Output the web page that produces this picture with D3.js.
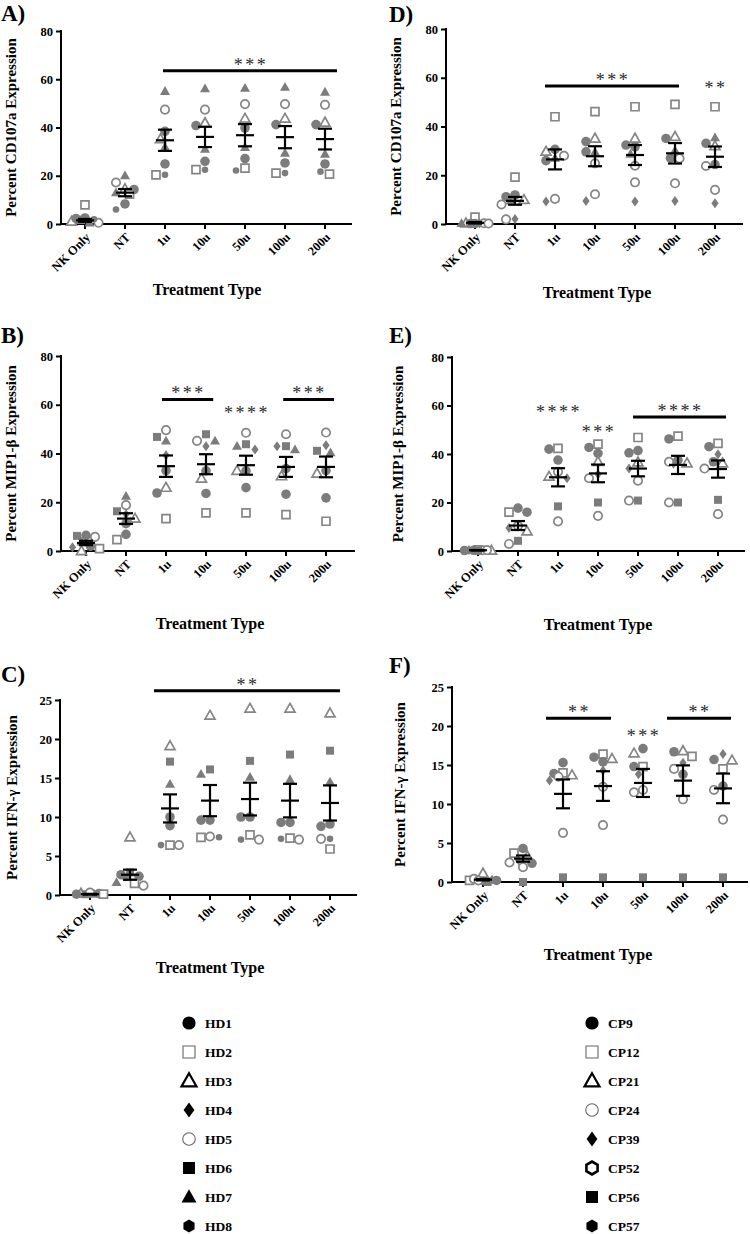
<!DOCTYPE html>
<html><head><meta charset="utf-8">
<script src="https://cdn.jsdelivr.net/npm/d3@7"></script>
<style>
body{margin:0;background:#fff}
svg{display:block}
text{font-family:'Liberation Serif','Times New Roman',serif;font-weight:bold;fill:#000}
</style>
</head><body>
<svg id="chart" width="750" height="1234"></svg>
<script>
// ---------- DATA ----------
const categories = ["NK Only","NT","1u","10u","50u","100u","200u"];

// Panel A: Percent CD107a (HD donors)
const aShapes = ["ftri","ocircle","otri","circle","ftri","circle","dot","osquare"];
const aValues = [
  [0.5,20,55,56.1,56.3,56.7,54.7],
  [0.5,17.2,47.4,47.4,49.7,49.7,49.4],
  [1,14.5,35.2,41.9,43.7,43.7,42.1],
  [2.3,14.3,38.4,40.8,39.8,41.2,41.2],
  [1.5,13,31.9,31,31.8,29.4,29],
  [2.5,8.3,24.9,26,27.1,25.3,24.9],
  [2,6,20.4,22.5,22.2,21.1,21.7],
  [7.9,12.4,20.4,22.5,23.2,21.1,20.7]
];
const aMeans = [1.5,13,34.7,36.1,36.8,36,35.2];
const aSems  = [0.6,1.5,4.4,4.2,4.6,4.6,4.3];

// Panel B: Percent MIP1-beta (HD donors)
const bShapes = ["ocircle","fsquare","ftri","diamond","circle","otri","circle","osquare"];
const bValues = [
  [5.8,18.8,49.6,45.2,48.5,47.9,48.6],
  [6.2,16.3,46.8,47.9,43.8,43,41.1],
  [3.7,22.5,45.2,45.2,43,41.6,40.3],
  [1.5,15.1,39.3,43,41.6,43,43.4],
  [6.4,11.2,33,32.9,32.9,33.8,33],
  [0,13.3,26,29.7,32.9,30.7,31.8],
  [2,6.8,23.8,23.6,26,23.3,21.8],
  [1,4.7,13.3,15.6,15.6,14.9,12.2]
];
const bMeans = [3.3,13.3,34.8,35.6,35.2,34.5,34.5];
const bSems  = [0.9,2.2,4.4,4.1,3.9,4.1,4.25];

// Panel C: Percent IFN-gamma (HD donors)
const cShapes = ["otri","fsquare","ftri","circle","circle","osquare","dot","ocircle"];
const cValues = [
  [0.2,7.4,19.1,23,23.9,23.9,23.3],
  [0.1,2.9,17.1,16.1,17.2,18,18.5],
  [0.1,1.6,14.2,15.5,15.1,14.8,14.5],
  [0.1,2.4,10,9.6,10,9.3,9.1],
  [0.2,2.6,8.9,9.6,10,9.3,8.8],
  [0.1,1.5,6.4,7.4,7.7,7.3,5.9],
  [0.1,2.2,6.4,7.4,7.1,7.2,7.2],
  [0.3,1.2,6.4,7.5,7.1,7.1,7.2]
];
const cMeans = [0.1,2.6,11.1,12.1,12.3,12.1,11.8];
const cSems  = [0.05,0.65,1.8,2,2.1,2.15,2.25];

// Panel D: Percent CD107a (CP donors)
const dShapes = ["osquare","circle","otri","ftri","ocircle","ocircle","circle","diamond"];
const dValues = [
  [2.8,19.2,44,46.1,48.1,49.1,48.1],
  [0.2,11.2,30.6,33.8,32.4,35.1,33.1],
  [0.3,9.9,29.7,35.1,35.1,35.8,32],
  [0.2,9.5,27,29.6,28.7,30.2,35.4],
  [0.3,1.9,10.3,12.2,17.1,16.7,14],
  [0.2,8,28,24.9,23.9,26.9,23.8],
  [0.2,11.9,26,29.6,31.7,27,24.4],
  [0.2,2.1,9.2,9.4,9.2,9.4,8.5]
];
const dMeans = [0.5,9.5,26.5,27.8,28.3,29,27.6];
const dSems  = [0.3,1.6,4.1,4.1,4.1,4.2,4.2];

// Panel E: Percent MIP1-beta (CP donors)
const eShapes = ["osquare","circle","circle","otri","diamond","ocircle","fsquare","ocircle"];
const eValues = [
  [0.5,16,42.3,44.1,46.8,47.4,44.4],
  [0.2,17.7,42,42.7,41.4,46.2,43],
  [0.3,16,37.5,40.3,40.5,37.5,36.8],
  [0.2,8.1,30.7,36.8,36.6,36.2,36.2],
  [0.4,9.5,30,31.6,34,36,39.9],
  [0.3,10.4,32.7,30,29,36.8,34],
  [0.2,4.2,18.4,20,20.8,20,21.1],
  [0.4,2.9,12.2,14.5,20.8,20,15.2]
];
const eMeans = [0.3,10.5,30.4,32,34,35.5,33.8];
const eSems  = [0.1,1.85,3.75,3.65,3.2,3.75,3.55];

// Panel F: Percent IFN-gamma (CP donors)
const fShapes = ["circle","osquare","otri","circle","diamond","ocircle","ocircle","fsquare"];
const fValues = [
  [0.2,4.3,15.3,16,17.1,16.7,15.7],
  [0.2,3.7,14,16.4,14.8,16.1,14.5],
  [1.1,3.3,13.7,15.8,16.5,16.8,15.6],
  [0.2,2.4,13.9,15.4,14.8,13.8,12.3],
  [0.3,2.8,13,14.3,13.8,15.3,16.4],
  [0.4,1.9,13.5,12.2,11.5,14.5,11.8],
  [0.2,2.5,6.3,7.3,11.8,10.6,8],
  [0,0,0.6,0.6,0.6,0.6,0.6]
];
const fMeans = [0.3,3,11.3,12.3,12.7,13,12];
const fSems  = [0.1,0.4,1.85,1.9,1.8,1.95,1.9];

// Significance annotations: [fromIndex, toIndex, value, label] (line) or [index, null, value, label] (text only)
const aSig = [[1.95,6.3,63.5,"***"]];
const bSig = [[1.9,3.18,62.2,"***"],[4,null,57.8,"****"],[4.93,6.2,62.2,"***"]];
const cSig = [[1.6,6.25,26.2,"**"]];
const dSig = [[1.75,5.1,56.6,"***"],[6,null,57,"**"]];
const eSig = [[2,null,58.7,"****"],[3,null,50.4,"***"],[3.875,6.2,55.3,"****"]];
const fSig = [[1.575,3.2,21,"**"],[4,null,19.1,"***"],[4.6,6.2,21,"**"]];

const yTitles = ["Percent CD107a Expression","Percent MIP1-\u03B2 Expression","Percent IFN-\u03B3 Expression"];
const yTicks80 = [0,20,40,60,80];
const yTicks25 = [0,5,10,15,20,25];

const hdNames = ["HD1","HD2","HD3","HD4","HD5","HD6","HD7","HD8"];
const hdShapes = ["circle","osquare","otri","diamond","ocircle","fsquare","ftri","hex"];
const cpNames = ["CP9","CP12","CP21","CP24","CP39","CP52","CP56","CP57"];
const cpShapes = ["circle","osquare","otri","ocircle","diamond","ohex","fsquare","hex"];

// ---------- LAYOUT ----------
const panels = [
  {L:"A", shapes:aShapes, values:aValues, means:aMeans, sems:aSems, sig:aSig, title:yTitles[0], ticks:yTicks80, ymax:80,
   ax:61, x1:85, xEnd:352, y0:224, yTop:31, lx:1, ly:21, tx:11, ttx:207, tty:295},
  {L:"B", shapes:bShapes, values:bValues, means:bMeans, sems:bSems, sig:bSig, title:yTitles[1], ticks:yTicks80, ymax:80,
   ax:61, x1:86, xEnd:355, y0:551, yTop:356, lx:1, ly:343, tx:11, ttx:210, tty:629},
  {L:"C", shapes:cShapes, values:cValues, means:cMeans, sems:cSems, sig:cSig, title:yTitles[2], ticks:yTicks25, ymax:25,
   ax:60, x1:90, xEnd:357, y0:895, yTop:700, lx:1, ly:682, tx:12, ttx:210, tty:973},
  {L:"D", shapes:dShapes, values:dValues, means:dMeans, sems:dSems, sig:dSig, title:yTitles[0], ticks:yTicks80, ymax:80,
   ax:446, x1:475, xEnd:743, y0:224, yTop:29, lx:389, ly:22, tx:396, ttx:597, tty:298},
  {L:"E", shapes:eShapes, values:eValues, means:eMeans, sems:eSems, sig:eSig, title:yTitles[1], ticks:yTicks80, ymax:80,
   ax:452, x1:478, xEnd:745, y0:551, yTop:357, lx:389, ly:343, tx:398, ttx:598, tty:630},
  {L:"F", shapes:fShapes, values:fValues, means:fMeans, sems:fSems, sig:fSig, title:yTitles[2], ticks:yTicks25, ymax:25,
   ax:452, x1:483, xEnd:748, y0:882, yTop:687, lx:389, ly:673, tx:400, ttx:598, tty:960}
];

const GRAY = "#7c7c7c";
const OGRAY = "#858585";

function shapePath(s, k){
  const p = d3.path();
  if(s==="circle"||s==="ocircle"||s==="dot"){
    const r = (s==="circle"?4.8:s==="dot"?3.3:4.2)*k;
    p.arc(0,0,r,0,2*Math.PI);
  } else if(s==="osquare"||s==="fsquare"){
    const h=4*k; p.rect(-h,-h,2*h,2*h);
  } else if(s==="otri"||s==="ftri"){
    const w=5*k; p.moveTo(0,-5.2*k); p.lineTo(w,3.6*k); p.lineTo(-w,3.6*k); p.closePath();
  } else if(s==="diamond"){
    p.moveTo(0,-5*k); p.lineTo(3.6*k,0); p.lineTo(0,5*k); p.lineTo(-3.6*k,0); p.closePath();
  } else if(s==="hex"||s==="ohex"){
    const r=4.6*k;
    for(let i=0;i<6;i++){const a=Math.PI/6+i*Math.PI/3; const x=r*Math.cos(a), y=r*Math.sin(a); if(i===0)p.moveTo(x,y); else p.lineTo(x,y);}
    p.closePath();
  }
  return p.toString();
}
const isOpen = s => s.startsWith("o");

const svg = d3.select("#chart");

panels.forEach(P=>{
  const g = svg.append("g");
  const x = d3.scalePoint().domain(categories).range([P.x1, P.x1+40*(categories.length-1)]);
  const xAt = i => P.x1 + i*x.step();
  const y = d3.scaleLinear().domain([0,P.ymax]).range([P.y0,P.yTop]);

  // panel letter
  g.append("text").attr("x",P.lx).attr("y",P.ly).style("font-size","23px").text(P.L+")");

  // y axis title
  g.append("text").attr("transform",`translate(${P.tx+5},${(P.y0+P.yTop)/2}) rotate(-90)`)
    .attr("text-anchor","middle").style("font-size","15px").text(P.title);

  // y axis
  const ya = g.append("g").attr("transform",`translate(${P.ax},0)`)
    .call(d3.axisLeft(y).tickValues(P.ticks).tickSize(5).tickPadding(3).tickFormat(d3.format("d")));
  ya.select(".domain").remove();
  ya.selectAll(".tick line").attr("stroke","#000").attr("stroke-width",2);
  ya.selectAll(".tick text").style("font-size","12.5px").style("font-family","'Liberation Serif',serif").style("font-weight","bold");
  g.append("line").attr("x1",P.ax).attr("x2",P.ax).attr("y1",P.y0+1).attr("y2",P.yTop-1).attr("stroke","#000").attr("stroke-width",2);

  // x axis
  g.append("line").attr("x1",P.ax-1).attr("x2",P.xEnd).attr("y1",P.y0).attr("y2",P.y0).attr("stroke","#000").attr("stroke-width",2);
  g.selectAll(".xt").data(categories).join("line").attr("x1",d=>x(d)).attr("x2",d=>x(d))
    .attr("y1",P.y0).attr("y2",P.y0+5).attr("stroke","#000").attr("stroke-width",2);
  g.selectAll(".xl").data(categories).join("text")
    .attr("transform",d=>`translate(${x(d)+6},${P.y0+14}) rotate(-45)`)
    .attr("text-anchor","end").style("font-size","12.5px").text(d=>d);

  // x axis title
  g.append("text").attr("x",P.ttx).attr("y",P.tty).attr("text-anchor","middle").style("font-size","16px").text("Treatment Type");

  // points with beeswarm-like spreading
  const STEP=4.5, MIN=8.2;
  const cands=[0,-1,1,-2,2,-3,3].map(k=>k*STEP);
  categories.forEach((cat,ci)=>{
    const pts = P.values.map((row,si)=>({v:row[ci], s:P.shapes[si], si}));
    pts.sort((a,b)=>b.v-a.v);
    const placed=[];
    pts.forEach(p=>{
      p.py=y(p.v);
      let best=null, bestD=-1;
      for(const off of cands){
        const dmin = placed.length? d3.min(placed,q=>Math.hypot(q.dx-off,q.py-p.py)) : Infinity;
        if(dmin>=MIN){best=off;break;}
        if(dmin>bestD){bestD=dmin;best=off;}
      }
      p.dx=best; placed.push(p);
    });
    placed.sort((a,b)=>a.si-b.si);
    g.selectAll(null).data(placed).join("path")
      .attr("d",d=>shapePath(d.s,1))
      .attr("transform",d=>`translate(${x(cat)+d.dx},${d.py})`)
      .attr("fill",d=>isOpen(d.s)?"#fff":GRAY)
      .attr("stroke",d=>isOpen(d.s)?OGRAY:"none")
      .attr("stroke-width",1.7);
  });

  // mean +/- SEM
  categories.forEach((cat,ci)=>{
    const cx=x(cat), m=P.means[ci], e=P.sems[ci];
    const eg=g.append("g").attr("stroke","#000").attr("stroke-width",2.2);
    eg.append("line").attr("x1",cx).attr("x2",cx).attr("y1",y(m+e)).attr("y2",y(Math.max(0,m-e)));
    eg.append("line").attr("x1",cx-9).attr("x2",cx+9).attr("y1",y(m)).attr("y2",y(m));
    eg.append("line").attr("x1",cx-7).attr("x2",cx+7).attr("y1",y(m+e)).attr("y2",y(m+e));
    eg.append("line").attr("x1",cx-7).attr("x2",cx+7).attr("y1",y(Math.max(0,m-e))).attr("y2",y(Math.max(0,m-e)));
  });

  // significance
  const starStyle = sel => sel.attr("text-anchor","middle").style("font-size","18px").style("letter-spacing","2.5px")
      .style("fill","#2a2a2a").style("font-weight","normal");
  P.sig.forEach(([a,b,v,lab])=>{
    if(b!==null){
      g.append("line").attr("x1",xAt(a)).attr("x2",xAt(b)).attr("y1",y(v)).attr("y2",y(v)).attr("stroke","#000").attr("stroke-width",3);
      g.append("text").attr("x",(xAt(a)+xAt(b))/2+1).attr("y",y(v)).call(starStyle).text(lab);
    } else {
      g.append("text").attr("x",xAt(a)+1).attr("y",y(v)+9).call(starStyle).text(lab);
    }
  });
});

// ---------- LEGENDS ----------
const rowY = d3.scaleLinear().domain([0,7]).range([1023,1226]);
function legend(names, shapes, sx, tx){
  const lg = svg.append("g");
  names.forEach((n,i)=>{
    const s=shapes[i];
    let stroke="none", sw=0, fill="#000";
    if(isOpen(s)){
      fill="#fff";
      if(s==="otri"){stroke="#000";sw=2.2;}
      else if(s==="ohex"){stroke="#000";sw=2.6;}
      else {stroke="#666";sw=1.1;}
    }
    const k = s==="circle"?1.38:(s==="hex"||s==="ohex"?1.4:1.5);
    lg.append("path").attr("d",shapePath(s,k))
      .attr("transform",`translate(${sx},${rowY(i)})`)
      .attr("fill",fill).attr("stroke",stroke).attr("stroke-width",sw);
    lg.append("text").attr("x",tx).attr("y",rowY(i)+5).style("font-size","13.5px").text(n);
  });
}
legend(hdNames, hdShapes, 189, 205);
legend(cpNames, cpShapes, 592, 608);
</script>
</body></html>
